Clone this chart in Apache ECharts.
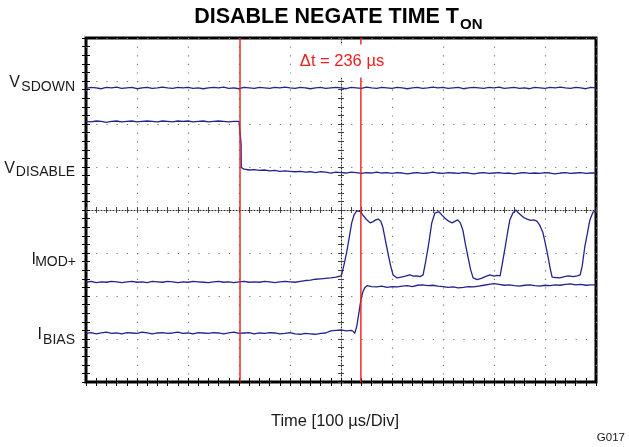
<!DOCTYPE html>
<html>
<head>
<meta charset="utf-8">
<script src="https://cdn.jsdelivr.net/npm/echarts@6/dist/echarts.min.js"></script>
<style>
html,body{margin:0;padding:0;background:#fff;}
#chart{width:629px;height:447px;}
</style>
</head>
<body>
<div id="chart"></div>
<script>
// ---- Data (time in µs, 100 µs/div; amplitude in screen divisions, 0 = bottom, 8 = top) ----
const sampleStep = 10; // µs between samples for the flat stretches
const cursorTimes = [302, 539];          // Δt = 236 µs

const vSdown = [
  6.83,6.85,6.84,6.82,6.85,6.84,6.86,6.83,6.84,6.85,
  6.82,6.84,6.85,6.83,6.84,6.86,6.84,6.83,6.85,6.84,
  6.85,6.83,6.84,6.82,6.84,6.85,6.84,6.86,6.83,6.84,
  6.82,6.85,6.84,6.83,6.85,6.84,6.83,6.85,6.84,6.86,
  6.84,6.83,6.85,6.84,6.82,6.84,6.85,6.83,6.84,6.85,
  6.84,6.82,6.85,6.84,6.83,6.86,6.84,6.83,6.85,6.84,
  6.83,6.85,6.84,6.82,6.84,6.85,6.83,6.84,6.86,6.84,
  6.85,6.83,6.84,6.85,6.82,6.84,6.85,6.84,6.83,6.85,
  6.84,6.86,6.83,6.84,6.85,6.83,6.84,6.82,6.85,6.84,
  6.83,6.85,6.84,6.86,6.84,6.83,6.85,6.84,6.82,6.85,6.84
];

const vDisablePre = [
  6.06,6.05,6.07,6.06,6.04,6.06,6.07,6.05,6.06,6.07,
  6.05,6.06,6.07,6.06,6.05,6.07,6.06,6.05,6.07,6.06,
  6.07,6.05,6.06,6.07,6.05,6.06,6.07,6.06,6.05,6.06,
  6.06
];
const vDisableEdge = [[303,6.06],[304,5.55],[304.5,4.99],[308,4.96]];
const vDisablePost = [
  4.95,4.93,4.94,4.92,4.93,4.91,4.92,4.90,4.91,4.90,
  4.89,4.90,4.88,4.89,4.87,4.89,4.88,4.86,4.88,4.87,
  4.86,4.88,4.87,4.85,4.87,4.86,4.88,4.86,4.87,4.85,
  4.87,4.86,4.84,4.86,4.87,4.85,4.86,4.88,4.86,4.85,
  4.87,4.86,4.85,4.87,4.86,4.84,4.86,4.87,4.85,4.86,
  4.87,4.85,4.86,4.84,4.86,4.87,4.85,4.86,4.85,4.87,
  4.86,4.84,4.86,4.87,4.85,4.86,4.87,4.85,4.86,4.86
];

const iModPre = [
  2.32,2.34,2.31,2.33,2.32,2.34,2.33,2.31,2.33,2.34,
  2.32,2.33,2.31,2.34,2.33,2.32,2.34,2.33,2.31,2.33,
  2.32,2.34,2.33,2.32,2.31,2.33,2.34,2.32,2.33,2.31,
  2.33,2.34,2.32,2.33,2.32,2.34,2.33,2.31,2.33,2.34,
  2.33,2.32,2.34,2.36,2.37,2.39,2.40,2.41,2.42,2.44
];
const iModPulses = [
  [500,2.47],[502,2.53],[507,2.78],[512,3.07],[517,3.42],[521,3.70],[526,3.90],[531,3.98],[533,4.02],
  [538,3.96],[543,3.88],[550,3.78],[557,3.70],[563,3.73],[568,3.77],[573,3.79],[578,3.74],
  [582,3.60],[587,3.30],[592,3.00],[597,2.72],[602,2.49],[610,2.42],[618,2.44],[626,2.46],
  [635,2.49],[642,2.46],[648,2.47],[655,2.45],[661,2.49],[666,2.80],[671,3.14],[678,3.70],
  [684,3.93],[692,3.96],[698,3.88],[704,3.81],[711,3.74],[718,3.70],[724,3.74],[729,3.77],
  [734,3.70],[739,3.53],[744,3.20],[749,2.91],[754,2.62],[759,2.42],[767,2.38],[775,2.41],
  [783,2.45],[792,2.49],[800,2.46],[806,2.48],[812,2.47],[817,2.80],[822,3.14],[827,3.50],
  [831,3.77],[837,3.93],[843,4.00],[848,3.93],[853,3.88],[859,3.82],[865,3.79],[872,3.76],
  [878,3.77],[884,3.74],[890,3.64],[896,3.47],[901,3.20],[906,2.91],[910,2.65],[914,2.44],
  [921,2.43],[929,2.42],[938,2.45],[946,2.47],[955,2.45],[963,2.47],[969,2.49],[973,2.70],
  [978,3.14],[983,3.45],[988,3.77],[994,3.95],[1000,3.97]
];

const iBiasPre = [
  1.13,1.15,1.12,1.14,1.16,1.13,1.14,1.12,1.15,1.14,
  1.13,1.16,1.14,1.12,1.14,1.15,1.13,1.14,1.16,1.13,
  1.14,1.12,1.15,1.14,1.13,1.15,1.14,1.12,1.14,1.16,
  1.13,1.14,1.15,1.12,1.14,1.13,1.15,1.14,1.12,1.13,
  1.15,1.12,1.11,1.13,1.12,1.11,1.13,1.14,1.19,1.20,
  1.21,1.19,1.20
];
const iBiasEdge = [[524,1.18],[527,1.13],[531,1.30],[535,1.60],[539,1.91],[543,2.10],[547,2.20],[551,2.24],[556,2.23]];
const iBiasPost = [
  2.22,2.21,2.23,2.20,2.22,2.21,2.23,2.24,2.22,2.25,
  2.26,2.24,2.25,2.23,2.22,2.20,2.21,2.19,2.20,2.22,
  2.21,2.23,2.25,2.27,2.29,2.27,2.25,2.26,2.24,2.23,
  2.25,2.26,2.24,2.23,2.25,2.24,2.26,2.25,2.27,2.28,
  2.26,2.27,2.25,2.26,2.26
];

// ---- Build series data ----
function sampled(values, t0) { return values.map((v, i) => [t0 + i * sampleStep, v]); }
const sdownData = sampled(vSdown, 0);
const disableData = sampled(vDisablePre, 0).concat(vDisableEdge, sampled(vDisablePost, 310));
const imodData = sampled(iModPre, 0).concat(iModPulses);
const ibiasData = sampled(iBiasPre, 0).concat(iBiasEdge, sampled(iBiasPost, 560));

const FONT = '"Liberation Sans", Arial, Helvetica, sans-serif';
const TRACE = '#23238c';
const RED = '#f01e1e';

const chart = echarts.init(document.getElementById('chart'), null, {renderer: 'canvas'});

function frameX(pos, extra) {
  return Object.assign({
    type: 'value', position: pos, min: 0, max: 1000, interval: 100,
    axisLine: {show: false}, axisLabel: {show: false},
    axisTick: {show: true, inside: true, length: 4, lineStyle: {color: '#000', width: 1}},
    minorTick: {show: true, splitNumber: 5, length: 4, lineStyle: {color: '#000', width: 1}},
    splitLine: {show: false}
  }, extra || {});
}
function frameY(pos, extra) {
  return Object.assign({
    type: 'value', position: pos, min: 0, max: 8, interval: 1,
    axisLine: {show: false}, axisLabel: {show: false},
    axisTick: {show: true, inside: true, length: 4, lineStyle: {color: '#000', width: 1}},
    minorTick: {show: true, splitNumber: 5, length: 4, lineStyle: {color: '#000', width: 1}},
    splitLine: {show: false}
  }, extra || {});
}
const crossLine = {show: true, lineStyle: {color: '#222', width: 1, type: [1, 2]}};
const crossTick = {show: true, length: 3, lineStyle: {color: '#444', width: 1}};

function line(data, color, width, z) {
  return {type: 'line', data: data, xAxisIndex: 0, yAxisIndex: 0, showSymbol: false, symbol: 'none',
    lineStyle: {color: color, width: width}, z: z, animation: false, silent: true};
}

function txt(text, x, y, size, align, extra, z) {
  return {type: 'text', x: x, y: y, silent: true, z: z || 50,
    style: Object.assign({text: text, fontSize: size, fontFamily: FONT, fill: '#1a1a1a',
      align: align, verticalAlign: 'middle'}, extra || {})};
}

chart.setOption({
  animation: false,
  backgroundColor: '#fff',
  grid: {left: 86, right: 33, top: 38, bottom: 65, show: true, borderColor: '#000', borderWidth: 3, backgroundColor: 'transparent'},
  xAxis: [
    frameX('bottom', {splitLine: {show: true, lineStyle: {color: '#777', width: 1.2, type: [1.2, 7.4]}}}),
    frameX('top'),
    frameX('bottom', {offset: -172, axisLine: crossLine, axisTick: Object.assign({inside: true}, crossTick), minorTick: Object.assign({splitNumber: 5}, crossTick)}),
    frameX('bottom', {offset: -172, axisLine: {show: false}, axisTick: Object.assign({inside: false}, crossTick), minorTick: Object.assign({splitNumber: 5}, crossTick)})
  ],
  yAxis: [
    frameY('left', {splitLine: {show: true, lineStyle: {color: '#777', width: 1.2, type: [1.2, 9.0]}}}),
    frameY('right'),
    frameY('left', {offset: -255, axisLine: crossLine, axisTick: Object.assign({inside: true}, crossTick), minorTick: Object.assign({splitNumber: 5}, crossTick)}),
    frameY('left', {offset: -255, axisLine: {show: false}, axisTick: Object.assign({inside: false}, crossTick), minorTick: Object.assign({splitNumber: 5}, crossTick)})
  ],
  series: [
    line(sdownData, TRACE, 1.3, 5),
    line(disableData, TRACE, 1.3, 5),
    line(imodData, TRACE, 1.3, 5),
    line(ibiasData, TRACE, 1.3, 5),
    line([[cursorTimes[0], 0], [cursorTimes[0], 8]], RED, 1.4, 10),
    line([[cursorTimes[1], 0], [cursorTimes[1], 8]], RED, 1.4, 10)
  ],
  graphic: [
    txt('DISABLE NEGATE TIME T', 459, 17, 21.5, 'right', {fontWeight: 'bold', fill: '#000'}),
    txt('ON', 460, 25, 15, 'left', {fontWeight: 'bold', fill: '#000'}),
    txt('\u0394t = 236 \u00b5s', 342, 61, 16.5, 'center',
        {fill: RED, backgroundColor: '#fff', padding: [8, 9, 8, 9]}, 200),
    txt('V', 20, 82.5, 16, 'right'),
    txt('SDOWN', 75, 87, 14, 'right'),
    txt('V', 15, 169, 16, 'right'),
    txt('DISABLE', 75, 172.5, 14, 'right'),
    txt('I', 36, 259.5, 16, 'right'),
    txt('MOD+', 76, 262.5, 14, 'right'),
    txt('I', 42, 335, 16, 'right'),
    txt('BIAS', 75, 340, 14, 'right'),
    txt('Time [100 \u00b5s/Div]', 335, 421, 16.5, 'center'),
    txt('G017', 625, 438, 11.5, 'right')
  ]
});
</script>
</body>
</html>
